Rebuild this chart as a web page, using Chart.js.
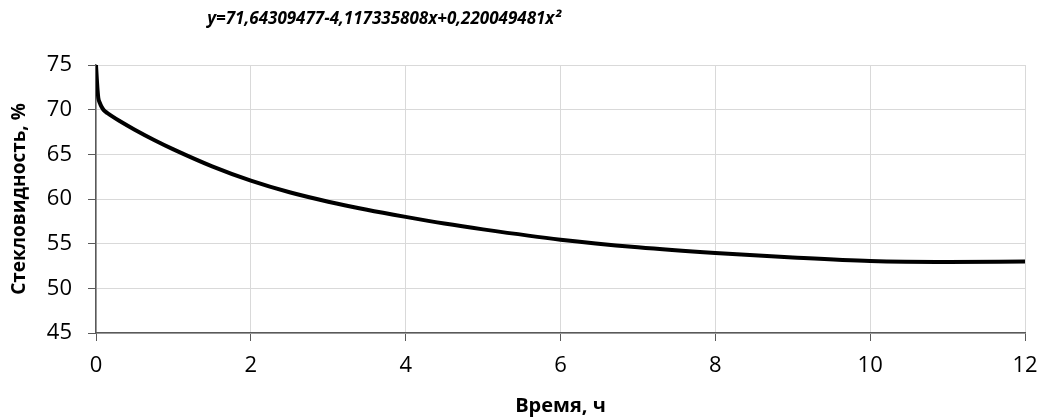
<!DOCTYPE html>
<html>
<head>
<meta charset="utf-8">
<script src="https://cdn.jsdelivr.net/npm/chart.js@4"></script>
<style>
  html, body { margin: 0; padding: 0; background: #fff; }
  #wrap { width: 1041px; height: 420px; }
</style>
</head>
<body>
<div id="wrap"><canvas id="chart" width="1041" height="420"></canvas></div>
<script>
// Values
const timeHours = [0, 0.01, 0.02, 0.03, 0.05, 0.07, 0.1, 0.15, 0.2, 0.3, 0.5, 0.75, 1, 1.5, 2, 2.5, 3, 3.5, 4, 4.5, 5, 6, 7, 8, 9, 10, 11, 12];
const vitreousness = [75, 73.5, 72.2, 71.3, 70.75, 70.35, 69.95, 69.6, 69.3, 68.75, 67.75, 66.6, 65.55, 63.65, 62.05, 60.75, 59.7, 58.8, 58.0, 57.25, 56.6, 55.45, 54.6, 53.96, 53.45, 53.05, 52.95, 53.0];
const xTicks = [0, 2, 4, 6, 8, 10, 12];
const yTicks = [45, 50, 55, 60, 65, 70, 75];

const titleText = 'y=71,64309477-4,117335808x+0,220049481x²';
const FONT = "'Open Sans', 'DejaVu Sans', sans-serif";
const AXIS_COLOR = '#595959';
const GRID_COLOR = '#d9d9d9';

// Title sits left of the plot centre, as in the original
const equationTitle = {
    id: 'equationTitle',
    afterDraw(chart) {
        const ctx = chart.ctx;
        ctx.save();
        ctx.font = 'italic bold 17px ' + FONT;
        ctx.fillStyle = '#000';
        ctx.textAlign = 'center';
        ctx.textBaseline = 'middle';
        ctx.fillText(titleText, 384, 19);
        ctx.restore();
    },
};

const points = timeHours.map((x, i) => ({ x, y: vitreousness[i] }));

new Chart(document.getElementById('chart'), {
    type: 'scatter',
    data: {
        datasets: [{
            data: points,
            showLine: true,
            borderColor: '#000',
            borderWidth: 4,
            pointRadius: 0,
            cubicInterpolationMode: 'monotone',
            borderCapStyle: 'round',
        }],
    },
    options: {
        responsive: false,
        animation: false,
        layout: { padding: { top: 65, right: 0, left: 0, bottom: 0 } },
        plugins: {
            legend: { display: false },
            tooltip: { enabled: false },
            title: { display: false },
        },
        scales: {
            x: {
                type: 'linear',
                min: 0,
                max: 12,
                afterBuildTicks: (axis) => { axis.ticks = xTicks.map(v => ({ value: v })); },
                afterFit: (axis) => {
                    axis.height = 87;
                    axis.paddingRight = 16;
                    axis.paddingLeft = 0;
                },
                grid: {
                    color: GRID_COLOR,
                    tickColor: AXIS_COLOR,
                    tickLength: 8,
                    lineWidth: 1,
                },
                border: { color: AXIS_COLOR, width: 1.5 },
                ticks: {
                    color: '#000',
                    font: { family: FONT, size: 22 },
                    padding: 12,
                    maxRotation: 0,
                },
                title: {
                    display: true,
                    text: 'Время, ч',
                    color: '#000',
                    font: { family: FONT, size: 20, weight: 'bold' },
                    padding: { top: 0, bottom: 2 },
                },
            },
            y: {
                type: 'linear',
                min: 45,
                max: 75,
                afterBuildTicks: (axis) => { axis.ticks = yTicks.map(v => ({ value: v })); },
                afterFit: (axis) => { axis.width = 96; },
                grid: {
                    color: GRID_COLOR,
                    tickColor: AXIS_COLOR,
                    tickLength: 8,
                    lineWidth: 1,
                },
                border: { color: AXIS_COLOR, width: 1.5 },
                ticks: {
                    color: '#000',
                    font: { family: FONT, size: 22 },
                    padding: 16,
                },
                title: {
                    display: true,
                    text: 'Стекловидность, %',
                    color: '#000',
                    font: { family: FONT, size: 19, weight: 'bold' },
                    padding: { top: 8, bottom: 0 },
                },
            },
        },
    },
    plugins: [equationTitle],
});
</script>
</body>
</html>
